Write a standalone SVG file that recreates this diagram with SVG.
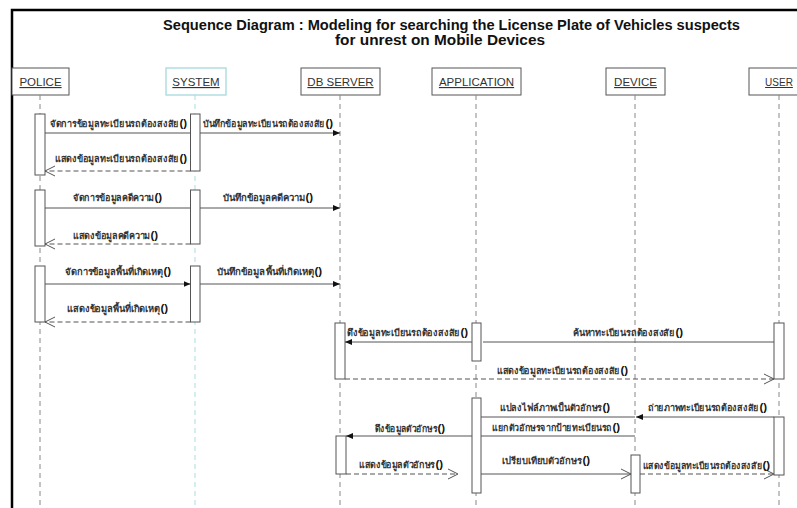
<svg xmlns="http://www.w3.org/2000/svg" width="797" height="508" viewBox="0 0 797 508">
  <defs>
    <style>
      .frame { stroke: #000; stroke-width: 2.5; fill: none; }
      .title { font-family: "Liberation Sans", Arial, sans-serif; font-weight: bold; font-size: 14px; fill: #111; }
      .head { fill: #fff; stroke: #555; stroke-width: 1; }
      .head-sys { fill: #fff; stroke: #9fd6da; stroke-width: 1.2; }
      .hname { font-family: "Liberation Sans", Arial, sans-serif; font-size: 11.5px; fill: #333; text-decoration: underline; text-anchor: middle; }
      .life { stroke: #888; stroke-width: 1; stroke-dasharray: 5 4; fill: none; }
      .life-sys { stroke: #a9dde2; stroke-width: 1; stroke-dasharray: 5 4; fill: none; }
      .act { fill: #fff; stroke: #555; stroke-width: 1; }
      .msg { stroke: #555; stroke-width: 1; fill: none; }
      .ret { stroke: #555; stroke-width: 1; fill: none; stroke-dasharray: 5 3; }
      .lbl { font-family: "Noto Sans", "DejaVu Sans", sans-serif; font-size: 9.5px; font-weight: bold; fill: #333; }
      .par { font-family: "Liberation Sans", Arial, sans-serif; font-size: 11.5px; font-weight: bold; fill: #111; }
    </style>
    <marker id="fill" markerUnits="userSpaceOnUse" markerWidth="8" markerHeight="8" viewBox="0 0 8 8" refX="7" refY="4" orient="auto">
      <path d="M0,1 L7,4 L0,7 z" fill="#111"/>
    </marker>
    <marker id="open" markerUnits="userSpaceOnUse" markerWidth="12" markerHeight="12" viewBox="0 0 12 12" refX="11" refY="6" orient="auto">
      <path d="M1,1 L11,6 L1,11" fill="none" stroke="#555" stroke-width="1"/>
    </marker>
  </defs>

  <rect width="797" height="508" fill="#fff"/>

  <!-- outer frame: top and left edges -->
  <path class="frame" d="M12,508 L12,10 L797,10"/>

  <!-- title -->
  <text class="title" x="163" y="30" textLength="577" lengthAdjust="spacingAndGlyphs">Sequence Diagram : Modeling for searching the License Plate of Vehicles suspects</text>
  <text class="title" x="335" y="45" textLength="210" lengthAdjust="spacingAndGlyphs">for unrest on Mobile Devices</text>

  <!-- lifelines -->
  <g id="police">
    <rect class="head" x="12" y="68" width="57" height="27"/>
    <text class="hname" x="40.5" y="86">POLICE</text>
    <line class="life" x1="40" y1="95" x2="40" y2="508"/>
  </g>
  <g id="system">
    <rect class="head-sys" x="166" y="68" width="60" height="27"/>
    <text class="hname" x="196" y="86">SYSTEM</text>
    <line class="life-sys" x1="195" y1="95" x2="195" y2="508"/>
  </g>
  <g id="db-server">
    <rect class="head" x="301" y="68" width="79" height="27"/>
    <text class="hname" x="340.5" y="86">DB SERVER</text>
    <line class="life" x1="340" y1="95" x2="340" y2="508"/>
  </g>
  <g id="application">
    <rect class="head" x="432" y="68" width="89" height="27"/>
    <text class="hname" x="476.5" y="86">APPLICATION</text>
    <line class="life" x1="476" y1="95" x2="476" y2="508"/>
  </g>
  <g id="device">
    <rect class="head" x="606" y="68" width="59" height="27"/>
    <text class="hname" x="635.5" y="86">DEVICE</text>
    <line class="life" x1="635" y1="95" x2="635" y2="508"/>
  </g>
  <g id="user">
    <rect class="head" x="749" y="68" width="60" height="27"/>
    <text class="hname" x="779" y="86" style="font-size:10px">USER</text>
    <line class="life" x1="779" y1="95" x2="779" y2="508"/>
  </g>

  <!-- activation bars -->
  <g id="activations">
    <rect class="act" x="35" y="114" width="10" height="61"/>
    <rect class="act" x="190.5" y="114" width="9.5" height="57"/>
    <rect class="act" x="35" y="190" width="10" height="56"/>
    <rect class="act" x="190.5" y="190" width="9.5" height="54"/>
    <rect class="act" x="35" y="266" width="10" height="56"/>
    <rect class="act" x="190.5" y="266" width="9.5" height="56"/>
    <rect class="act" x="335" y="323" width="10" height="56"/>
    <rect class="act" x="472" y="323" width="9" height="38"/>
    <rect class="act" x="774" y="323" width="10" height="56"/>
    <rect class="act" x="472" y="398" width="9" height="95"/>
    <rect class="act" x="774" y="417" width="10" height="58"/>
    <rect class="act" x="631" y="455" width="9" height="38"/>
    <rect class="act" x="336" y="436" width="10" height="38"/>
  </g>

  <!-- messages -->
  <g id="connectors">
    <line class="msg" x1="45" y1="133" x2="190.5" y2="133"/>
    <line class="msg" x1="200" y1="133" x2="340" y2="133" marker-end="url(#fill)"/>
    <line class="ret" x1="190.5" y1="171" x2="45" y2="171" marker-end="url(#open)"/>

    <line class="msg" x1="45" y1="208" x2="190.5" y2="208"/>
    <line class="msg" x1="200" y1="208" x2="340" y2="208" marker-end="url(#fill)"/>
    <line class="ret" x1="190.5" y1="244" x2="45" y2="244" marker-end="url(#open)"/>

    <line class="msg" x1="45" y1="284" x2="190.5" y2="284" marker-end="url(#fill)"/>
    <line class="msg" x1="200" y1="284" x2="340" y2="284" marker-end="url(#fill)"/>
    <line class="ret" x1="190.5" y1="322" x2="45" y2="322" marker-end="url(#open)"/>

    <line class="msg" x1="472" y1="342" x2="345" y2="342" marker-end="url(#fill)"/>
    <line class="msg" x1="774" y1="342" x2="483" y2="342"/>
    <line class="ret" x1="345" y1="379" x2="774" y2="379" marker-end="url(#open)"/>

    <line class="msg" x1="774" y1="417" x2="636" y2="417" marker-end="url(#fill)"/>
    <line class="msg" x1="635" y1="417" x2="481" y2="417"/>
    <line class="msg" x1="635" y1="436" x2="481" y2="436"/>
    <line class="msg" x1="472" y1="436" x2="346" y2="436" marker-end="url(#fill)"/>
    <line class="ret" x1="346" y1="474" x2="458" y2="474" marker-end="url(#open)"/>
    <line class="msg" x1="481" y1="474" x2="631" y2="474" marker-end="url(#open)"/>
    <line class="ret" x1="640" y1="474" x2="774" y2="474" marker-end="url(#open)"/>
  </g>

  <!-- message labels: operation name followed by its bold "()" -->
  <g id="labels">
    <text class="lbl" x="50" y="127" textLength="129" lengthAdjust="spacingAndGlyphs">จัดการข้อมูลทะเบียนรถต้องสงสัย</text><text class="par" x="179.5" y="127">()</text>
    <text class="lbl" x="203" y="127" textLength="122" lengthAdjust="spacingAndGlyphs">บันทึกข้อมูลทะเบียนรถต้องสงสัย</text><text class="par" x="325.5" y="127">()</text>
    <text class="lbl" x="55" y="162" textLength="124" lengthAdjust="spacingAndGlyphs">แสดงข้อมูลทะเบียนรถต้องสงสัย</text><text class="par" x="179.5" y="162">()</text>

    <text class="lbl" x="73" y="201" textLength="81" lengthAdjust="spacingAndGlyphs">จัดการข้อมูลคดีความ</text><text class="par" x="154.5" y="201">()</text>
    <text class="lbl" x="223" y="201" textLength="82" lengthAdjust="spacingAndGlyphs">บันทึกข้อมูลคดีความ</text><text class="par" x="305.5" y="201">()</text>
    <text class="lbl" x="73" y="239" textLength="77" lengthAdjust="spacingAndGlyphs">แสดงข้อมูลคดีความ</text><text class="par" x="150.5" y="239">()</text>

    <text class="lbl" x="65" y="275" textLength="98" lengthAdjust="spacingAndGlyphs">จัดการข้อมูลพื้นที่เกิดเหตุ</text><text class="par" x="163.5" y="275">()</text>
    <text class="lbl" x="217" y="275" textLength="97" lengthAdjust="spacingAndGlyphs">บันทึกข้อมูลพื้นที่เกิดเหตุ</text><text class="par" x="314.5" y="275">()</text>
    <text class="lbl" x="67" y="312" textLength="93" lengthAdjust="spacingAndGlyphs">แสดงข้อมูลพื้นที่เกิดเหตุ</text><text class="par" x="160.5" y="312">()</text>

    <text class="lbl" x="347" y="336" textLength="113" lengthAdjust="spacingAndGlyphs">ดึงข้อมูลทะเบียนรถต้องสงสัย</text><text class="par" x="460.5" y="336">()</text>
    <text class="lbl" x="573" y="336" textLength="102" lengthAdjust="spacingAndGlyphs">ค้นหาทะเบียนรถต้องสงสัย</text><text class="par" x="675.5" y="336">()</text>
    <text class="lbl" x="497" y="374" textLength="123" lengthAdjust="spacingAndGlyphs">แสดงข้อมูลทะเบียนรถต้องสงสัย</text><text class="par" x="620.5" y="374">()</text>

    <text class="lbl" x="648" y="411" textLength="111" lengthAdjust="spacingAndGlyphs">ถ่ายภาพทะเบียนรถต้องสงสัย</text><text class="par" x="759.5" y="411">()</text>
    <text class="lbl" x="500" y="411" textLength="102" lengthAdjust="spacingAndGlyphs">แปลงไฟล์ภาพเป็นตัวอักษร</text><text class="par" x="602.5" y="411">()</text>
    <text class="lbl" x="492" y="431" textLength="120" lengthAdjust="spacingAndGlyphs">แยกตัวอักษรจากป้ายทะเบียนรถ</text><text class="par" x="612.5" y="431">()</text>
    <text class="lbl" x="375" y="432" textLength="62" lengthAdjust="spacingAndGlyphs">ดึงข้อมูลตัวอักษร</text><text class="par" x="437.5" y="432">()</text>
    <text class="lbl" x="359" y="468" textLength="76" lengthAdjust="spacingAndGlyphs">แสดงข้อมูลตัวอักษร</text><text class="par" x="435.5" y="468">()</text>
    <text class="lbl" x="502" y="464" textLength="80" lengthAdjust="spacingAndGlyphs">เปรียบเทียบตัวอักษร</text><text class="par" x="582.5" y="464">()</text>
    <text class="lbl" x="643" y="469" textLength="119" lengthAdjust="spacingAndGlyphs">แสดงข้อมูลทะเบียนรถต้องสงสัย</text><text class="par" x="762.5" y="469">()</text>
  </g>
</svg>
